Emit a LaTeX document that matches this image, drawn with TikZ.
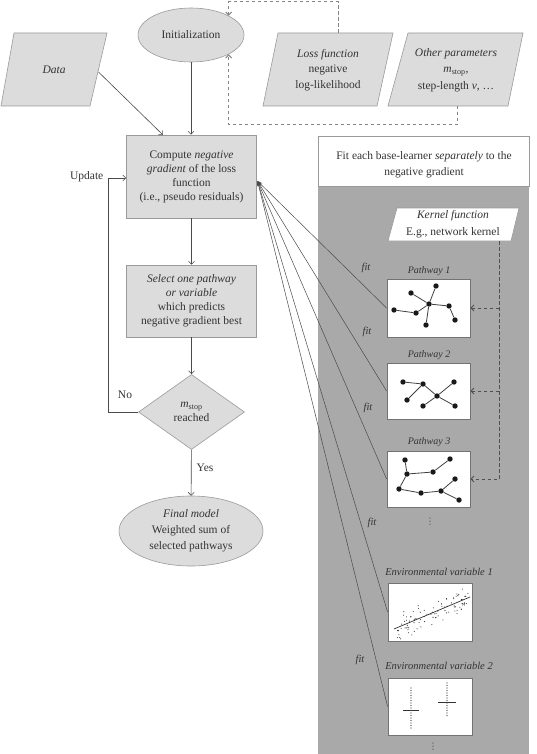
\documentclass[tikz,border=0pt]{standalone}
\usepackage{fontspec}
\setmainfont{Liberation Serif}
\newfontfamily\symfont{DejaVu Sans}
\usetikzlibrary{shapes.geometric,arrows.meta}
\definecolor{boxfill}{HTML}{DCDCDC}
\definecolor{boxline}{HTML}{9A9A9A}
\definecolor{panel}{HTML}{A9A9A9}
\definecolor{ink}{HTML}{333333}
\definecolor{wire}{HTML}{4A4A4A}
\definecolor{dashcol}{HTML}{858585}
\definecolor{kdashcol}{HTML}{505050}
\begin{document}
\begin{tikzpicture}[x=1pt,y=-1pt,
  font=\fontsize{11.5}{14}\selectfont, text=ink,
  flow/.style={draw=boxline, fill=boxfill, line width=0.6pt},
  txt/.style={align=center, inner sep=0pt},
  arr/.style={draw=wire, line width=0.6pt, -{Straight Barb[length=3pt,width=6pt]}},
  darr/.style={draw=dashcol, dash pattern=on 3.5pt off 2.5pt, line width=1pt, -{Straight Barb[length=3pt,width=6pt]}},
  kdarr/.style={darr, draw=kdashcol, line width=0.8pt},
  fitarr/.style={draw=wire, line width=0.5pt, -{Stealth[length=5pt,width=3.5pt]}},
  pbox/.style={draw=black!55, fill=white, line width=0.8pt, minimum width=83pt, inner sep=0pt},
  vtx/.style={circle, fill=black!90, inner sep=0pt, minimum size=5.4pt},
  plbl/.style={font=\fontsize{10}{11}\selectfont\itshape, inner sep=0pt},
  elbl/.style={font=\fontsize{10.5}{12}\selectfont\itshape, inner sep=0pt},
  fitlbl/.style={font=\fontsize{10.5}{12}\selectfont\itshape, inner sep=0pt},
  edge/.style={draw=black!75, line width=0.8pt},
  vdotlbl/.style={inner sep=0pt, font=\symfont\fontsize{9}{10}\selectfont, text=black!70}
]
\useasboundingbox (0,0) rectangle (536,754);

% right panel
\fill[panel] (318,186) rectangle (529,754);
\node[draw=boxline, fill=white, line width=0.6pt, minimum width=211pt, minimum height=50pt,
      anchor=north west, inner sep=0pt] (head) at (318,136) {};
\node[txt, font=\fontsize{11.5}{16}\selectfont] (headtxt) at (424,165)
  {Fit each base-learner \textit{separately} to the\\negative gradient};

% top row
\node[flow, ellipse, minimum width=106pt, minimum height=54pt, inner sep=0pt] (init) at (191,35) {Initialization};

\draw[flow] (14,33) -- (107,33) -- (90,106) -- (1,106) -- cycle;
\node[txt] (data) at (54,70) {\itshape Data};

\draw[flow] (278,33) -- (393,33) -- (377,106) -- (263,106) -- cycle;
\node[txt, font=\fontsize{11.5}{15.5}\selectfont] (loss) at (328,70)
  {\textit{Loss function}\\negative\\log-likelihood};

\draw[flow] (408,33) -- (523,33) -- (508,106) -- (388,106) -- cycle;
\node[txt, font=\fontsize{11.5}{16.5}\selectfont] (other) at (456,70)
  {\textit{Other parameters}\\\textit{m}\textsubscript{stop},\\step-length \textit{v}, \dots};

\coordinate (lossTop) at (338,33);
\coordinate (otherBot) at (457,106);
\draw[darr] (lossTop) -- (338,2) -| (init.north east);
\draw[darr] (otherBot) -- (457,125) -| (init.south east);

% main flow
\node[flow, rectangle, minimum width=130pt, minimum height=83pt, txt] (comp) at (191.5,176.5)
  {Compute \textit{negative}\\\textit{gradient} of the loss\\function\\(i.e., pseudo residuals)};
\node[flow, rectangle, minimum width=130pt, minimum height=72pt, txt] (sel) at (191.5,301)
  {\textit{Select one pathway}\\\textit{or variable}\\which predicts\\negative gradient best};
\node[flow, diamond, minimum width=106pt, minimum height=75pt, txt] (dec) at (191.5,412)
  {\textit{m}\textsubscript{stop}\\reached};
\node[flow, ellipse, minimum width=144pt, minimum height=70pt, txt, font=\fontsize{11.5}{16}\selectfont] (fin) at (191,531)
  {\textit{Final model}\\Weighted sum of\\selected pathways};

\coordinate (dataOut) at (98.5,72);
\coordinate (compIn) at (163,135);
\draw[arr] (dataOut) -- (compIn);
\draw[arr] (init.south) -- (init.south |- comp.north);
\draw[arr] (comp) -- (sel);
\draw[arr] (sel) -- (dec);
\draw[arr] (dec) -- (fin);
\node[inner sep=0pt] (yes) at (205,468) {Yes};
\draw[arr] (dec.west) -| (108,178) -- (comp.west |- 0,178);
\node[inner sep=0pt] (no) at (125,395) {No};
\node[inner sep=0pt, anchor=east] (upd) at (103.5,177) {Update};

% kernel function
\draw[draw=boxline, fill=white, line width=0.6pt] (397,208) -- (519,208) -- (511,241) -- (388,241) -- cycle;
\node[txt, font=\fontsize{11.5}{17}\selectfont] (kern) at (453,224.5)
  {\textit{Kernel function}\\E.g., network kernel};

% pathway boxes
\node[pbox, minimum height=58pt] (p1) at (428.5,308) {};
\node[pbox, minimum height=56pt] (p2) at (428.5,391) {};
\node[pbox, minimum height=56pt] (p3) at (428.5,479) {};
\node[pbox, minimum height=58pt, minimum width=84pt] (e1) at (430,612) {};
\node[pbox, minimum height=57pt, minimum width=84pt] (e2) at (430,706.5) {};

\node[plbl] (p1l) at (429,271) {Pathway 1};
\node[plbl] (p2l) at (429,355) {Pathway 2};
\node[plbl] (p3l) at (429,442) {Pathway 3};
\node[elbl] (e1l) at (439,572) {Environmental variable 1};
\node[elbl] (e2l) at (439,666) {Environmental variable 2};

\node[vdotlbl] (dots1) at (430,522) {⋮};
\node[vdotlbl] (dots2) at (433,747) {⋮};

% kernel dashed arrows
\coordinate (kb) at (499,241);
\draw[kdarr] (kb) |- (p3.east);
\draw[kdarr] (p1.east -| kb) -- (p1.east);
\draw[kdarr] (p2.east -| kb) -- (p2.east);

% fit connectors
\coordinate (conv) at (257.5,181);
\draw[fitarr] (p1.west) -- (conv);
\draw[fitarr] (p2.west) -- (conv);
\draw[fitarr] (p3.west) -- (conv);
\draw[fitarr] (e1.west) -- (conv);
\draw[fitarr] (e2.west) -- (conv);
\node[fitlbl] (f1) at (366,268) {fit};
\node[fitlbl] (f2) at (367,332) {fit};
\node[fitlbl] (f3) at (368,408) {fit};
\node[fitlbl] (f4) at (372,523) {fit};
\node[fitlbl] (f5) at (360,660) {fit};

% pathway 1 graph
\foreach \n/\x/\y in {a1/411/293, a2/436/286, a3/429/304, a4/394/310, a5/416/313, a6/449/306, a7/455/320, a8/426/325}
  \node[vtx] (\n) at (\x,\y) {};
\foreach \u/\v in {a1/a3, a2/a3, a3/a5, a5/a4, a3/a8, a3/a6, a6/a7}
  \draw[edge] (\u) -- (\v);
% pathway 2 graph
\foreach \n/\x/\y in {b1/403/382, b2/423/384, b3/454/382, b4/407/400, b5/437/396, b6/423/406, b7/455/406}
  \node[vtx] (\n) at (\x,\y) {};
\foreach \u/\v in {b1/b2, b2/b4, b2/b5, b5/b3, b5/b6, b5/b7}
  \draw[edge] (\u) -- (\v);
% pathway 3 graph
\foreach \n/\x/\y in {c1/405/460, c2/450/459, c3/407/474, c4/433/472, c5/455/479, c6/399/489, c7/421/493, c8/441/491, c9/459/500}
  \node[vtx] (\n) at (\x,\y) {};
\foreach \u/\v in {c1/c3, c3/c4, c4/c2, c3/c6, c6/c7, c7/c8, c8/c5, c8/c9}
  \draw[edge] (\u) -- (\v);

% environmental variable 1: scatter
\pgfmathsetseed{17}
\foreach \i in {1,...,95} {
  \pgfmathsetmacro\xx{396+72*rnd}
  \pgfmathsetmacro\yy{629-32*(\xx-394)/76+8*rand+6*rand}
  \fill[black!80] (\xx,\yy) circle (0.55pt);
}
\draw[black!80, line width=0.7pt] (394,629) -- (470,597);

% environmental variable 2
\foreach \y in {688,690.5,...,730} \fill[black!80] (411,\y) circle (0.55pt);
\draw[black!80, line width=0.6pt] (403,710) -- (419,710);
\foreach \y in {683,685.5,...,717} \fill[black!80] (447,\y) circle (0.55pt);
\draw[black!80, line width=0.6pt] (438,702) -- (456,702);
\end{tikzpicture}
\end{document}
